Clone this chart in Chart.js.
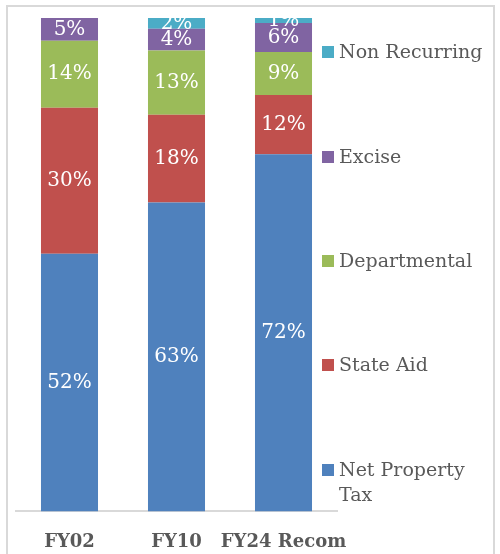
<!DOCTYPE html>
<html>
<head>
<meta charset="utf-8">
<script src="https://cdn.jsdelivr.net/npm/chart.js@4.4.1/dist/chart.umd.min.js"></script>
<style>
  html, body { margin: 0; padding: 0; background: #fff; }
  #wrap { position: relative; width: 500px; height: 554px; }
  #frame { position: absolute; left: 6px; top: 5px; width: 489px; height: 560px; border: 2px solid #d9d9d9; box-sizing: border-box; }
  #chart { position: absolute; left: 0; top: 0; }
  .leg { position: absolute; left: 322px; font-family: "DejaVu Serif", serif; font-size: 19px; color: #595959; line-height: 25px; }
  .leg span.box { position: absolute; left: 0; top: 7px; width: 12px; height: 12px; }
  .leg span.txt { display: block; margin-left: 17px; width: 150px; }
</style>
</head>
<body>
<div id="wrap">
  <div id="frame"></div>
  <canvas id="chart" width="500" height="554"></canvas>
  <div id="legend"></div>
</div>
<script>
// categories and series (shares of revenue, %)
const categories = ['FY02', 'FY10', 'FY24 Recom'];
const netPropertyTax = [52.2, 62.6, 72.4];
const stateAid = [29.6, 17.8, 12.0];
const departmental = [13.6, 13.0, 8.7];
const excise = [4.6, 4.4, 5.9];
const nonRecurring = [0, 2.2, 1.0];

const seriesNames = ['Net Property Tax', 'State Aid', 'Departmental', 'Excise', 'Non Recurring'];
const seriesColors = ['#4F81BD', '#C0504D', '#9BBB59', '#8064A2', '#4BACC6'];
const seriesData = [netPropertyTax, stateAid, departmental, excise, nonRecurring];

// legend spots (top of text) on the right, top to bottom
const legendTops = [39, 144, 248, 352, 457];

const serif = '"DejaVu Serif", serif';

// white % labels in the middle of each segment
const segmentLabels = {
    id: 'segmentLabels',
    afterDatasetsDraw(chart) {
        const ctx = chart.ctx;
        ctx.save();
        ctx.fillStyle = '#ffffff';
        ctx.font = '20px ' + serif;
        ctx.textAlign = 'center';
        ctx.textBaseline = 'middle';
        chart.data.datasets.forEach((ds, i) => {
            const meta = chart.getDatasetMeta(i);
            meta.data.forEach((bar, j) => {
                const v = ds.data[j];
                if (!v) return;
                const yMid = (bar.y + bar.base) / 2;
                ctx.fillText(Math.round(v) + '%', bar.x, yMid);
            });
        });
        ctx.restore();
    }
};

const chart = new Chart(document.getElementById('chart'), {
    type: 'bar',
    data: {
        labels: categories,
        datasets: seriesNames.map((name, i) => ({
            label: name,
            data: seriesData[i],
            backgroundColor: seriesColors[i],
            borderWidth: 0,
            categoryPercentage: 1,
            barPercentage: 0.533
        }))
    },
    options: {
        responsive: false,
        animation: false,
        layout: { padding: { left: 16, right: 163, top: 18, bottom: -19 } },
        plugins: {
            legend: { display: false },
            tooltip: { enabled: false }
        },
        scales: {
            x: {
                stacked: true,
                grid: { display: false, drawTicks: false },
                border: { display: true, color: '#d9d9d9', width: 2 },
                ticks: {
                    color: '#595959',
                    padding: 20,
                    maxRotation: 0,
                    autoSkip: false,
                    font: { family: serif, size: 18, weight: 'bold' }
                }
            },
            y: {
                stacked: true,
                display: false,
                min: 0,
                max: 100
            }
        }
    },
    plugins: [segmentLabels]
});

// html legend, reversed order, spread down the right side
const legendEl = document.getElementById('legend');
for (let k = 0; k < seriesNames.length; k++) {
    const i = seriesNames.length - 1 - k;
    const item = document.createElement('div');
    item.className = 'leg';
    item.style.top = legendTops[k] + 'px';
    item.innerHTML = '<span class="box" style="background:' + seriesColors[i] + '"></span>' +
        '<span class="txt">' + seriesNames[i] + '</span>';
    legendEl.appendChild(item);
}
</script>
</body>
</html>
